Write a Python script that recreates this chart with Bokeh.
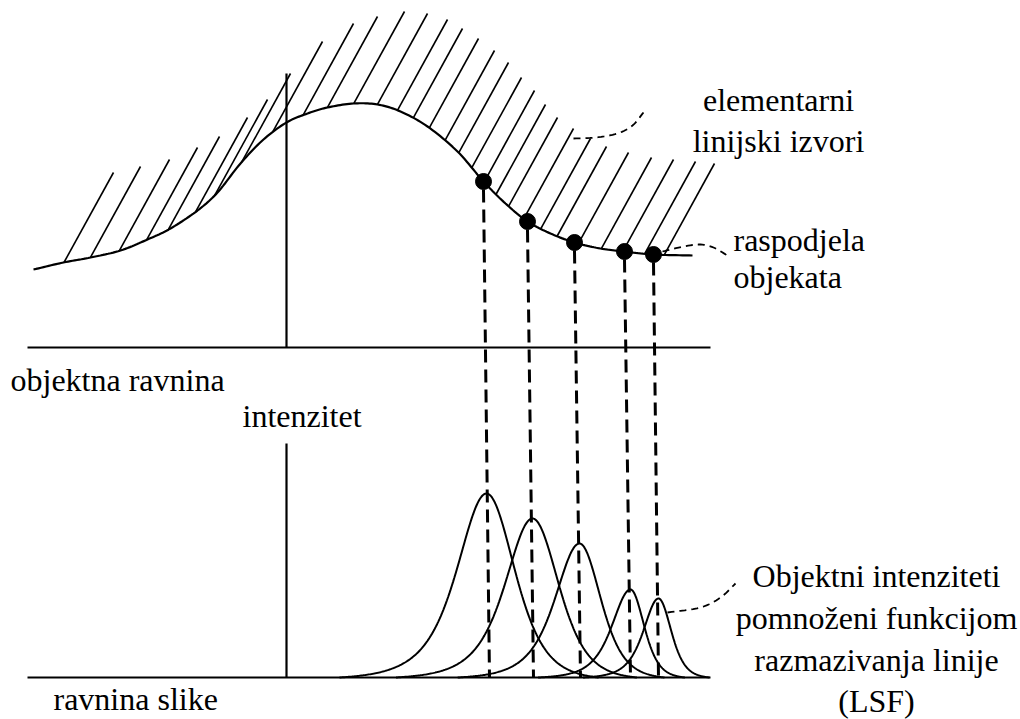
import numpy as np
from bokeh.plotting import figure
from bokeh.models import Range1d
from bokeh.embed import file_html
from bokeh.resources import INLINE
from bokeh.core.properties import value

# ---------------- data (pixel-like units) ----------------
# object distribution curve (upper panel)
curve_x = [33, 63, 90, 120, 147, 170, 197, 217, 240, 263, 286, 307, 327, 353, 377,
           400, 427, 457, 483, 505, 527, 550, 574, 600, 624, 653, 692]
curve_y = [269, 262, 257, 250, 239, 228, 210, 192, 163, 139, 122, 113, 107, 103, 104,
           111, 126, 151, 181, 203, 221, 233, 242, 248, 251, 254, 255]

# tops of the elementary line sources (hatch)
hatch_top_x = [113, 140, 169, 197, 219, 247, 267, 290, 322, 353, 377, 404, 427, 447, 462,
               478, 494, 508, 521, 534, 545, 557, 573, 590, 606, 628, 651, 673, 695, 714]
hatch_top_y = [172, 166, 159, 147, 136, 117, 99, 73, 41, 23, 16, 11, 13, 19, 28,
               38, 50, 62, 77, 90, 104, 117, 128, 138, 146, 152, 157, 159, 161, 163]

# sampled object points
dot_x = [483, 527, 574, 624, 653]
dot_y = [181, 221, 242, 251, 254]
drop_bottom_x = [489, 533, 580, 630, 658]

# line spread functions in the image plane
lsf_center = [486, 532, 579, 630, 658]
lsf_height = [184, 159, 134, 88, 79]
lsf_wl = [35, 32.5, 29, 22, 18]
lsf_wr = [33, 30.7, 25, 16, 15]

# axes
obj_plane_y = 347
img_plane_y = 677
axis_x = 286
plane_x0, plane_x1 = 27, 710
obj_axis_top = 73
img_axis_top = 443

# leader lines
lead1_x = [573, 595, 617, 632, 643]
lead1_y = [138, 137, 133, 125, 112]
lead2_x = [662, 683, 700, 713, 727]
lead2_y = [251, 246, 244, 247, 255]
lead3_x = [667, 700, 720, 735]
lead3_y = [612, 607, 597, 583]

# labels (y = text baseline)
lab_text = ["elementarni", "linijski izvori", "raspodjela", "objekata",
            "objektna ravnina", "intenzitet", "ravnina slike",
            "Objektni intenziteti", "pomnoženi funkcijom", "razmazivanja linije", "(LSF)"]
lab_x = [778, 778, 733, 733, 10, 242, 53, 876, 876, 876, 876]
lab_y = [106, 147, 246, 283, 386, 422, 705, 582, 624, 666, 707]
lab_align = ["center", "center", "left", "left", "left", "left", "left",
             "center", "center", "center", "center"]

FONT_PX = 32
BASELINE_SHIFT = -7  # compensates renderer's alphabetic-baseline placement

# ---------------- helpers ----------------
def catmull_rom(xs, ys, n=12):
    P = np.column_stack([xs, ys]).astype(float)
    P = np.vstack([P[0] * 2 - P[1], P, P[-1] * 2 - P[-2]])
    out = []
    for i in range(1, len(P) - 2):
        p0, p1, p2, p3 = P[i - 1], P[i], P[i + 1], P[i + 2]
        for t in np.linspace(0, 1, n, endpoint=False):
            t2, t3 = t * t, t * t * t
            pt = 0.5 * ((2 * p1) + (-p0 + p2) * t + (2 * p0 - 5 * p1 + 4 * p2 - p3) * t2
                        + (-p0 + 3 * p1 - 3 * p2 + p3) * t3)
            out.append(pt)
    out.append(P[-2])
    out = np.array(out)
    return out[:, 0], out[:, 1]

sx, sy = catmull_rom(curve_x, curve_y)

# hatch bottoms: walk down-left along hatch direction until the curve is met
d = np.array([-49.0, 89.0]); d /= np.linalg.norm(d)
hb_x, hb_y = [], []
for tx, ty in zip(hatch_top_x, hatch_top_y):
    bx, by = tx, ty
    for t in np.arange(0, 400, 0.25):
        px, py = tx + d[0] * t, ty + d[1] * t
        if px < sx[0]:
            break
        cy = np.interp(px, sx, sy)
        bx, by = px, py
        if py >= cy:
            break
    hb_x.append(bx); hb_y.append(by)

# ---------------- figure ----------------
W, H = 1020, 719
p = figure(width=W, height=H, x_range=Range1d(0, W), y_range=Range1d(H, 0),
           min_border=0, toolbar_location=None, output_backend="svg")
p.axis.visible = False
p.grid.visible = False
p.outline_line_color = None
p.background_fill_color = "white"
p.border_fill_color = "white"

# planes and axes
p.segment(x0=[plane_x0, plane_x0, axis_x, axis_x], y0=[obj_plane_y, img_plane_y, obj_axis_top, img_axis_top],
          x1=[plane_x1, plane_x1, axis_x, axis_x], y1=[obj_plane_y, img_plane_y, obj_plane_y, img_plane_y],
          line_color="black", line_width=2.2)

# hatch
p.segment(x0=hb_x, y0=hb_y, x1=hatch_top_x, y1=hatch_top_y, line_color="black", line_width=1.6)

# object distribution
p.line(sx, sy, line_color="black", line_width=2.2)

# vertical dashed drops
p.segment(x0=dot_x, y0=[y + 8 for y in dot_y], x1=drop_bottom_x, y1=[img_plane_y] * len(dot_x),
          line_color="black", line_width=3, line_dash="13 7")

# LSF curves
for c, h, wl, wr in zip(lsf_center, lsf_height, lsf_wl, lsf_wr):
    cl = 2 ** 0.5 - 1
    cr = 2 ** (1 / 3) - 1
    xl = np.linspace(c - 4.2 * wl, c, 120)
    ul = (c - xl) / wl
    fl = 1 / (1 + cl * ul ** 2) ** 2
    fl = (fl - fl[0]) / (1 - fl[0])
    xr = np.linspace(c, c + 3.4 * wr, 120)
    ur = (xr - c) / wr
    fr = 1 / (1 + cr * ur ** 2) ** 3
    fr = (fr - fr[-1]) / (1 - fr[-1])
    xs = np.concatenate([xl, xr[1:]])
    fs = np.concatenate([fl, fr[1:]])
    p.line(xs, img_plane_y - h * fs, line_color="black", line_width=2)

# dots
p.scatter(dot_x, dot_y, size=16, color="black")

# leaders
for lx, ly in [(lead1_x, lead1_y), (lead2_x, lead2_y), (lead3_x, lead3_y)]:
    qx, qy = catmull_rom(lx, ly, n=8)
    p.line(qx, qy, line_color="black", line_width=1.8, line_dash="7 5")

# labels
for t, x, y, a in zip(lab_text, lab_x, lab_y, lab_align):
    p.text(x=[x], y=[y + BASELINE_SHIFT], text=[t], text_align=a, text_baseline="alphabetic",
           text_font=value("Liberation Serif"), text_font_size=f"{FONT_PX}px", text_color="black")

open("out.html", "w").write(file_html(p, INLINE))
